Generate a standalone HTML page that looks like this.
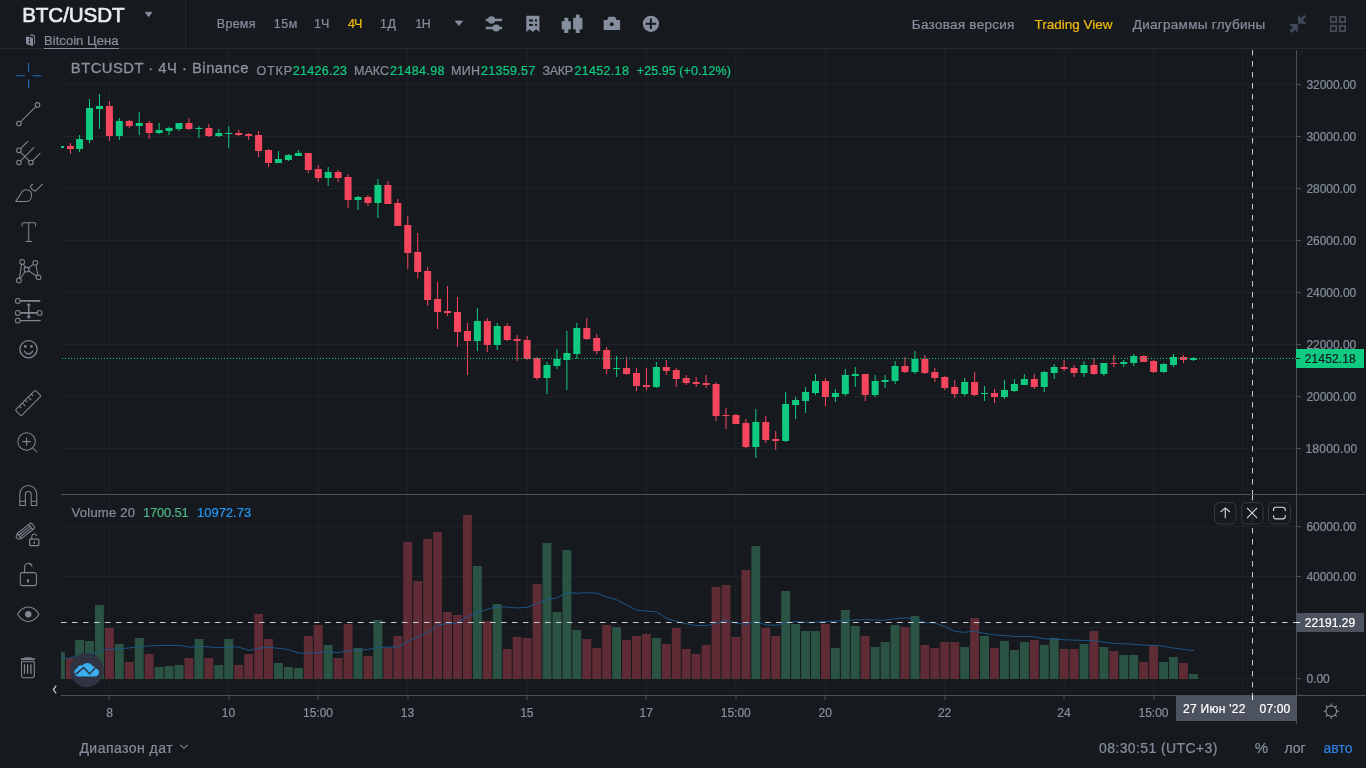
<!DOCTYPE html>
<html lang="ru"><head><meta charset="utf-8"><title>BTC/USDT</title>
<style>
html,body{margin:0;padding:0;background:#161a1e;}
body{width:1366px;height:768px;overflow:hidden;position:relative;font-family:"Liberation Sans",sans-serif;}
#app{position:absolute;left:0;top:0;width:1366px;height:768px;background:#161a1e;overflow:hidden;}
svg{position:absolute;left:0;top:0;}
.t{position:absolute;height:20px;line-height:20px;white-space:nowrap;}
</style></head><body><div id="app">
<svg width="1366" height="768" viewBox="0 0 1366 768">
<defs><clipPath id="cp"><rect x="61" y="49" width="1235" height="646"/></clipPath></defs>
<rect x="108.9" y="49" width="1" height="646" fill="#1f2328"/>
<rect x="228.2" y="49" width="1" height="646" fill="#1f2328"/>
<rect x="317.7" y="49" width="1" height="646" fill="#1f2328"/>
<rect x="407.2" y="49" width="1" height="646" fill="#1f2328"/>
<rect x="526.6" y="49" width="1" height="646" fill="#1f2328"/>
<rect x="645.9" y="49" width="1" height="646" fill="#1f2328"/>
<rect x="735.4" y="49" width="1" height="646" fill="#1f2328"/>
<rect x="824.9" y="49" width="1" height="646" fill="#1f2328"/>
<rect x="944.3" y="49" width="1" height="646" fill="#1f2328"/>
<rect x="1063.6" y="49" width="1" height="646" fill="#1f2328"/>
<rect x="1153.1" y="49" width="1" height="646" fill="#1f2328"/>
<rect x="1242.1" y="49" width="1" height="646" fill="#1f2328"/>
<rect x="61" y="84" width="1235" height="1" fill="#1f2328"/>
<rect x="61" y="136" width="1235" height="1" fill="#1f2328"/>
<rect x="61" y="188" width="1235" height="1" fill="#1f2328"/>
<rect x="61" y="240" width="1235" height="1" fill="#1f2328"/>
<rect x="61" y="292" width="1235" height="1" fill="#1f2328"/>
<rect x="61" y="344" width="1235" height="1" fill="#1f2328"/>
<rect x="61" y="396" width="1235" height="1" fill="#1f2328"/>
<rect x="61" y="448" width="1235" height="1" fill="#1f2328"/>
<rect x="61" y="526" width="1235" height="1" fill="#1f2328"/>
<rect x="61" y="576" width="1235" height="1" fill="#1f2328"/>
<rect x="61" y="627" width="1235" height="1" fill="#1f2328"/>
<rect x="61" y="678" width="1235" height="1" fill="#1f2328"/>
<g clip-path="url(#cp)">
<rect x="56.02" y="652.0" width="8.9" height="27.0" fill="#2b5343"/>
<rect x="65.97" y="658.0" width="8.9" height="21.0" fill="#5f2b35"/>
<rect x="75.11" y="640.0" width="8.9" height="39.0" fill="#2b5343"/>
<rect x="85.06" y="641.0" width="8.9" height="38.0" fill="#2b5343"/>
<rect x="95.01" y="605.0" width="8.9" height="74.0" fill="#2b5343"/>
<rect x="104.95" y="628.0" width="8.9" height="51.0" fill="#5f2b35"/>
<rect x="114.89" y="644.0" width="8.9" height="35.0" fill="#2b5343"/>
<rect x="124.84" y="662.0" width="8.9" height="17.0" fill="#5f2b35"/>
<rect x="134.79" y="638.0" width="8.9" height="41.0" fill="#2b5343"/>
<rect x="144.73" y="654.0" width="8.9" height="25.0" fill="#5f2b35"/>
<rect x="154.68" y="667.0" width="8.9" height="12.0" fill="#2b5343"/>
<rect x="164.62" y="666.0" width="8.9" height="13.0" fill="#2b5343"/>
<rect x="174.57" y="665.0" width="8.9" height="14.0" fill="#2b5343"/>
<rect x="184.51" y="658.0" width="8.9" height="21.0" fill="#5f2b35"/>
<rect x="194.46" y="639.0" width="8.9" height="40.0" fill="#2b5343"/>
<rect x="204.40" y="658.0" width="8.9" height="21.0" fill="#5f2b35"/>
<rect x="214.35" y="665.0" width="8.9" height="14.0" fill="#2b5343"/>
<rect x="224.29" y="639.0" width="8.9" height="40.0" fill="#2b5343"/>
<rect x="234.24" y="665.0" width="8.9" height="14.0" fill="#5f2b35"/>
<rect x="244.18" y="654.0" width="8.9" height="25.0" fill="#5f2b35"/>
<rect x="254.13" y="614.0" width="8.9" height="65.0" fill="#5f2b35"/>
<rect x="264.07" y="639.0" width="8.9" height="40.0" fill="#5f2b35"/>
<rect x="274.02" y="663.0" width="8.9" height="16.0" fill="#2b5343"/>
<rect x="283.96" y="667.0" width="8.9" height="12.0" fill="#2b5343"/>
<rect x="293.91" y="668.0" width="8.9" height="11.0" fill="#2b5343"/>
<rect x="303.85" y="636.0" width="8.9" height="43.0" fill="#5f2b35"/>
<rect x="313.80" y="625.0" width="8.9" height="54.0" fill="#5f2b35"/>
<rect x="323.74" y="645.0" width="8.9" height="34.0" fill="#2b5343"/>
<rect x="333.69" y="658.0" width="8.9" height="21.0" fill="#5f2b35"/>
<rect x="343.63" y="624.0" width="8.9" height="55.0" fill="#5f2b35"/>
<rect x="353.57" y="648.0" width="8.9" height="31.0" fill="#2b5343"/>
<rect x="363.52" y="656.0" width="8.9" height="23.0" fill="#5f2b35"/>
<rect x="373.46" y="620.0" width="8.9" height="59.0" fill="#2b5343"/>
<rect x="383.41" y="648.0" width="8.9" height="31.0" fill="#5f2b35"/>
<rect x="393.36" y="636.0" width="8.9" height="43.0" fill="#5f2b35"/>
<rect x="403.30" y="542.0" width="8.9" height="137.0" fill="#5f2b35"/>
<rect x="413.25" y="581.0" width="8.9" height="98.0" fill="#5f2b35"/>
<rect x="423.19" y="539.0" width="8.9" height="140.0" fill="#5f2b35"/>
<rect x="433.14" y="532.0" width="8.9" height="147.0" fill="#5f2b35"/>
<rect x="443.08" y="612.0" width="8.9" height="67.0" fill="#5f2b35"/>
<rect x="453.03" y="615.0" width="8.9" height="64.0" fill="#5f2b35"/>
<rect x="462.97" y="515.0" width="8.9" height="164.0" fill="#5f2b35"/>
<rect x="472.92" y="566.0" width="8.9" height="113.0" fill="#2b5343"/>
<rect x="482.86" y="621.0" width="8.9" height="58.0" fill="#5f2b35"/>
<rect x="492.81" y="604.0" width="8.9" height="75.0" fill="#2b5343"/>
<rect x="502.75" y="649.0" width="8.9" height="30.0" fill="#5f2b35"/>
<rect x="512.69" y="637.0" width="8.9" height="42.0" fill="#5f2b35"/>
<rect x="522.64" y="638.0" width="8.9" height="41.0" fill="#5f2b35"/>
<rect x="532.58" y="584.0" width="8.9" height="95.0" fill="#5f2b35"/>
<rect x="542.53" y="543.0" width="8.9" height="136.0" fill="#2b5343"/>
<rect x="552.48" y="612.0" width="8.9" height="67.0" fill="#2b5343"/>
<rect x="562.42" y="550.0" width="8.9" height="129.0" fill="#2b5343"/>
<rect x="572.37" y="630.0" width="8.9" height="49.0" fill="#2b5343"/>
<rect x="582.31" y="639.0" width="8.9" height="40.0" fill="#5f2b35"/>
<rect x="592.25" y="648.0" width="8.9" height="31.0" fill="#5f2b35"/>
<rect x="602.20" y="625.0" width="8.9" height="54.0" fill="#5f2b35"/>
<rect x="612.14" y="627.0" width="8.9" height="52.0" fill="#2b5343"/>
<rect x="622.09" y="640.0" width="8.9" height="39.0" fill="#5f2b35"/>
<rect x="632.03" y="636.0" width="8.9" height="43.0" fill="#5f2b35"/>
<rect x="641.98" y="634.0" width="8.9" height="45.0" fill="#5f2b35"/>
<rect x="651.92" y="638.0" width="8.9" height="41.0" fill="#2b5343"/>
<rect x="661.87" y="644.0" width="8.9" height="35.0" fill="#5f2b35"/>
<rect x="671.81" y="628.0" width="8.9" height="51.0" fill="#5f2b35"/>
<rect x="681.76" y="649.0" width="8.9" height="30.0" fill="#5f2b35"/>
<rect x="691.70" y="654.0" width="8.9" height="25.0" fill="#5f2b35"/>
<rect x="701.65" y="645.0" width="8.9" height="34.0" fill="#5f2b35"/>
<rect x="711.59" y="587.0" width="8.9" height="92.0" fill="#5f2b35"/>
<rect x="721.54" y="585.0" width="8.9" height="94.0" fill="#5f2b35"/>
<rect x="731.48" y="637.0" width="8.9" height="42.0" fill="#5f2b35"/>
<rect x="741.43" y="570.0" width="8.9" height="109.0" fill="#5f2b35"/>
<rect x="751.38" y="546.0" width="8.9" height="133.0" fill="#2b5343"/>
<rect x="761.32" y="628.0" width="8.9" height="51.0" fill="#5f2b35"/>
<rect x="771.26" y="636.0" width="8.9" height="43.0" fill="#5f2b35"/>
<rect x="781.21" y="591.0" width="8.9" height="88.0" fill="#2b5343"/>
<rect x="791.15" y="624.0" width="8.9" height="55.0" fill="#2b5343"/>
<rect x="801.10" y="631.0" width="8.9" height="48.0" fill="#2b5343"/>
<rect x="811.04" y="631.0" width="8.9" height="48.0" fill="#2b5343"/>
<rect x="820.99" y="624.0" width="8.9" height="55.0" fill="#5f2b35"/>
<rect x="830.93" y="648.0" width="8.9" height="31.0" fill="#2b5343"/>
<rect x="840.88" y="610.0" width="8.9" height="69.0" fill="#2b5343"/>
<rect x="850.82" y="626.0" width="8.9" height="53.0" fill="#2b5343"/>
<rect x="860.77" y="636.0" width="8.9" height="43.0" fill="#5f2b35"/>
<rect x="870.71" y="647.0" width="8.9" height="32.0" fill="#2b5343"/>
<rect x="880.66" y="642.0" width="8.9" height="37.0" fill="#2b5343"/>
<rect x="890.60" y="625.0" width="8.9" height="54.0" fill="#2b5343"/>
<rect x="900.55" y="627.0" width="8.9" height="52.0" fill="#5f2b35"/>
<rect x="910.50" y="616.0" width="8.9" height="63.0" fill="#2b5343"/>
<rect x="920.44" y="645.0" width="8.9" height="34.0" fill="#5f2b35"/>
<rect x="930.38" y="648.0" width="8.9" height="31.0" fill="#5f2b35"/>
<rect x="940.33" y="642.0" width="8.9" height="37.0" fill="#5f2b35"/>
<rect x="950.27" y="642.0" width="8.9" height="37.0" fill="#5f2b35"/>
<rect x="960.22" y="647.0" width="8.9" height="32.0" fill="#2b5343"/>
<rect x="970.16" y="618.0" width="8.9" height="61.0" fill="#5f2b35"/>
<rect x="980.11" y="636.0" width="8.9" height="43.0" fill="#2b5343"/>
<rect x="990.05" y="648.0" width="8.9" height="31.0" fill="#5f2b35"/>
<rect x="1000.00" y="641.0" width="8.9" height="38.0" fill="#2b5343"/>
<rect x="1009.94" y="650.0" width="8.9" height="29.0" fill="#2b5343"/>
<rect x="1019.89" y="642.0" width="8.9" height="37.0" fill="#2b5343"/>
<rect x="1029.84" y="640.0" width="8.9" height="39.0" fill="#5f2b35"/>
<rect x="1039.78" y="645.0" width="8.9" height="34.0" fill="#2b5343"/>
<rect x="1049.72" y="638.0" width="8.9" height="41.0" fill="#2b5343"/>
<rect x="1059.67" y="649.0" width="8.9" height="30.0" fill="#5f2b35"/>
<rect x="1069.62" y="649.0" width="8.9" height="30.0" fill="#5f2b35"/>
<rect x="1079.56" y="644.0" width="8.9" height="35.0" fill="#2b5343"/>
<rect x="1089.51" y="631.0" width="8.9" height="48.0" fill="#5f2b35"/>
<rect x="1099.45" y="647.0" width="8.9" height="32.0" fill="#2b5343"/>
<rect x="1109.39" y="651.0" width="8.9" height="28.0" fill="#5f2b35"/>
<rect x="1119.34" y="655.0" width="8.9" height="24.0" fill="#2b5343"/>
<rect x="1129.29" y="655.0" width="8.9" height="24.0" fill="#2b5343"/>
<rect x="1139.23" y="662.0" width="8.9" height="17.0" fill="#5f2b35"/>
<rect x="1149.18" y="645.0" width="8.9" height="34.0" fill="#5f2b35"/>
<rect x="1159.12" y="662.0" width="8.9" height="17.0" fill="#2b5343"/>
<rect x="1169.07" y="657.0" width="8.9" height="22.0" fill="#2b5343"/>
<rect x="1179.01" y="663.0" width="8.9" height="16.0" fill="#5f2b35"/>
<rect x="1188.96" y="674.0" width="8.9" height="5.0" fill="#2b5343"/>
<polyline points="61.0,657.7 68.0,658.4 75.3,656.4 92.9,653.5 104.6,649.9 114.4,648.9 126.0,648.3 139.5,646.6 158.5,645.4 180.5,645.4 190.0,647.3 199.5,646.2 218.5,647.6 237.5,646.9 249.3,650.4 258.8,648.2 269.0,647.2 286.6,649.3 299.8,653.2 313.0,652.9 327.6,651.7 337.8,652.6 352.5,650.3 367.1,649.6 377.4,647.5 397.9,647.0 408.1,641.2 422.8,634.6 430.0,630.7 437.3,625.5 447.6,623.3 456.4,623.3 466.6,617.0 478.3,611.9 488.6,609.0 497.3,606.5 507.6,607.2 517.8,608.0 527.4,607.2 536.9,603.6 547.1,599.6 556.6,598.0 566.9,592.6 576.4,593.3 586.7,592.6 596.9,593.3 607.2,597.3 615.9,599.5 625.0,604.0 636.1,610.0 656.6,611.9 666.9,618.5 678.6,622.2 696.1,625.5 707.8,625.5 716.6,622.9 725.4,620.3 735.7,622.9 745.9,624.4 756.2,621.4 766.4,625.1 776.7,625.1 785.4,622.9 795.7,621.7 810.0,622.3 829.0,621.4 846.6,620.4 864.2,619.5 883.2,620.3 894.9,618.8 905.2,617.8 915.4,619.2 925.7,622.6 934.5,622.9 944.7,626.6 954.2,631.2 963.7,632.4 974.0,631.2 984.2,633.4 994.5,634.9 1004.0,635.5 1014.6,636.5 1032.2,636.5 1043.9,638.7 1063.0,639.7 1093.7,640.8 1114.2,643.4 1131.8,644.1 1146.4,645.2 1159.6,645.6 1174.2,648.2 1194.0,650.7" fill="none" stroke="#1a5687" stroke-width="1" stroke-linejoin="round"/>
<rect x="59.98" y="146.0" width="1" height="2.0" fill="#0ecb81"/>
<rect x="56.98" y="146.0" width="7" height="2.0" fill="#0ecb81"/>
<rect x="69.92" y="143.0" width="1" height="11.0" fill="#f6465d"/>
<rect x="66.92" y="146.0" width="7" height="3.0" fill="#f6465d"/>
<rect x="79.06" y="135.0" width="1" height="17.0" fill="#0ecb81"/>
<rect x="76.06" y="139.0" width="7" height="10.0" fill="#0ecb81"/>
<rect x="89.01" y="99.0" width="1" height="44.0" fill="#0ecb81"/>
<rect x="86.01" y="108.0" width="7" height="32.0" fill="#0ecb81"/>
<rect x="98.96" y="94.0" width="1" height="35.0" fill="#0ecb81"/>
<rect x="95.96" y="106.0" width="7" height="3.0" fill="#0ecb81"/>
<rect x="108.90" y="101.0" width="1" height="40.0" fill="#f6465d"/>
<rect x="105.90" y="106.0" width="7" height="30.0" fill="#f6465d"/>
<rect x="118.84" y="118.0" width="1" height="22.0" fill="#0ecb81"/>
<rect x="115.84" y="121.0" width="7" height="15.0" fill="#0ecb81"/>
<rect x="128.79" y="120.0" width="1" height="8.0" fill="#f6465d"/>
<rect x="125.79" y="121.0" width="7" height="5.0" fill="#f6465d"/>
<rect x="138.74" y="112.0" width="1" height="23.0" fill="#0ecb81"/>
<rect x="135.74" y="123.0" width="7" height="3.0" fill="#0ecb81"/>
<rect x="148.68" y="121.0" width="1" height="18.0" fill="#f6465d"/>
<rect x="145.68" y="123.0" width="7" height="10.0" fill="#f6465d"/>
<rect x="158.62" y="123.0" width="1" height="11.0" fill="#0ecb81"/>
<rect x="155.62" y="130.0" width="7" height="3.0" fill="#0ecb81"/>
<rect x="168.57" y="127.0" width="1" height="8.0" fill="#0ecb81"/>
<rect x="165.57" y="128.0" width="7" height="3.0" fill="#0ecb81"/>
<rect x="178.52" y="123.0" width="1" height="8.0" fill="#0ecb81"/>
<rect x="175.52" y="123.0" width="7" height="6.0" fill="#0ecb81"/>
<rect x="188.46" y="118.0" width="1" height="12.0" fill="#f6465d"/>
<rect x="185.46" y="123.0" width="7" height="6.0" fill="#f6465d"/>
<rect x="198.41" y="126.0" width="1" height="12.0" fill="#0ecb81"/>
<rect x="195.41" y="128.0" width="7" height="1.0" fill="#0ecb81"/>
<rect x="208.35" y="124.0" width="1" height="13.0" fill="#f6465d"/>
<rect x="205.35" y="128.0" width="7" height="8.0" fill="#f6465d"/>
<rect x="218.30" y="129.0" width="1" height="8.0" fill="#0ecb81"/>
<rect x="215.30" y="133.0" width="7" height="3.0" fill="#0ecb81"/>
<rect x="228.24" y="126.0" width="1" height="22.0" fill="#0ecb81"/>
<rect x="225.24" y="133.0" width="7" height="1.0" fill="#0ecb81"/>
<rect x="238.19" y="130.0" width="1" height="6.0" fill="#f6465d"/>
<rect x="235.19" y="133.0" width="7" height="2.0" fill="#f6465d"/>
<rect x="248.13" y="133.0" width="1" height="7.0" fill="#f6465d"/>
<rect x="245.13" y="134.0" width="7" height="2.0" fill="#f6465d"/>
<rect x="258.08" y="131.0" width="1" height="26.0" fill="#f6465d"/>
<rect x="255.08" y="135.0" width="7" height="16.0" fill="#f6465d"/>
<rect x="268.02" y="149.0" width="1" height="18.0" fill="#f6465d"/>
<rect x="265.02" y="150.0" width="7" height="13.0" fill="#f6465d"/>
<rect x="277.97" y="151.0" width="1" height="12.0" fill="#0ecb81"/>
<rect x="274.97" y="159.0" width="7" height="4.0" fill="#0ecb81"/>
<rect x="287.91" y="154.0" width="1" height="7.0" fill="#0ecb81"/>
<rect x="284.91" y="155.0" width="7" height="5.0" fill="#0ecb81"/>
<rect x="297.86" y="150.0" width="1" height="6.0" fill="#0ecb81"/>
<rect x="294.86" y="153.0" width="7" height="3.0" fill="#0ecb81"/>
<rect x="307.80" y="153.0" width="1" height="20.0" fill="#f6465d"/>
<rect x="304.80" y="153.0" width="7" height="17.0" fill="#f6465d"/>
<rect x="317.75" y="165.0" width="1" height="17.0" fill="#f6465d"/>
<rect x="314.75" y="169.0" width="7" height="9.0" fill="#f6465d"/>
<rect x="327.69" y="167.0" width="1" height="19.0" fill="#0ecb81"/>
<rect x="324.69" y="172.0" width="7" height="6.0" fill="#0ecb81"/>
<rect x="337.63" y="170.0" width="1" height="12.0" fill="#f6465d"/>
<rect x="334.63" y="172.0" width="7" height="6.0" fill="#f6465d"/>
<rect x="347.58" y="174.0" width="1" height="34.0" fill="#f6465d"/>
<rect x="344.58" y="177.0" width="7" height="23.0" fill="#f6465d"/>
<rect x="357.52" y="196.0" width="1" height="14.0" fill="#0ecb81"/>
<rect x="354.52" y="197.0" width="7" height="3.0" fill="#0ecb81"/>
<rect x="367.47" y="195.0" width="1" height="11.0" fill="#f6465d"/>
<rect x="364.47" y="197.0" width="7" height="6.0" fill="#f6465d"/>
<rect x="377.41" y="179.0" width="1" height="39.0" fill="#0ecb81"/>
<rect x="374.41" y="185.0" width="7" height="18.0" fill="#0ecb81"/>
<rect x="387.36" y="181.0" width="1" height="23.0" fill="#f6465d"/>
<rect x="384.36" y="185.0" width="7" height="19.0" fill="#f6465d"/>
<rect x="397.31" y="199.0" width="1" height="27.0" fill="#f6465d"/>
<rect x="394.31" y="203.0" width="7" height="23.0" fill="#f6465d"/>
<rect x="407.25" y="216.0" width="1" height="53.0" fill="#f6465d"/>
<rect x="404.25" y="225.0" width="7" height="28.0" fill="#f6465d"/>
<rect x="417.20" y="233.0" width="1" height="45.0" fill="#f6465d"/>
<rect x="414.20" y="252.0" width="7" height="20.0" fill="#f6465d"/>
<rect x="427.14" y="267.0" width="1" height="39.0" fill="#f6465d"/>
<rect x="424.14" y="271.0" width="7" height="29.0" fill="#f6465d"/>
<rect x="437.09" y="282.0" width="1" height="47.0" fill="#f6465d"/>
<rect x="434.09" y="299.0" width="7" height="13.0" fill="#f6465d"/>
<rect x="447.03" y="286.0" width="1" height="30.0" fill="#f6465d"/>
<rect x="444.03" y="311.0" width="7" height="2.0" fill="#f6465d"/>
<rect x="456.98" y="297.0" width="1" height="50.0" fill="#f6465d"/>
<rect x="453.98" y="312.0" width="7" height="20.0" fill="#f6465d"/>
<rect x="466.92" y="323.0" width="1" height="52.0" fill="#f6465d"/>
<rect x="463.92" y="331.0" width="7" height="10.0" fill="#f6465d"/>
<rect x="476.87" y="308.0" width="1" height="43.0" fill="#0ecb81"/>
<rect x="473.87" y="321.0" width="7" height="20.0" fill="#0ecb81"/>
<rect x="486.81" y="318.0" width="1" height="34.0" fill="#f6465d"/>
<rect x="483.81" y="321.0" width="7" height="24.0" fill="#f6465d"/>
<rect x="496.75" y="323.0" width="1" height="27.0" fill="#0ecb81"/>
<rect x="493.75" y="326.0" width="7" height="19.0" fill="#0ecb81"/>
<rect x="506.70" y="323.0" width="1" height="18.0" fill="#f6465d"/>
<rect x="503.70" y="326.0" width="7" height="14.0" fill="#f6465d"/>
<rect x="516.64" y="335.0" width="1" height="26.0" fill="#f6465d"/>
<rect x="513.64" y="339.0" width="7" height="2.0" fill="#f6465d"/>
<rect x="526.59" y="336.0" width="1" height="24.0" fill="#f6465d"/>
<rect x="523.59" y="340.0" width="7" height="19.0" fill="#f6465d"/>
<rect x="536.53" y="357.0" width="1" height="23.0" fill="#f6465d"/>
<rect x="533.53" y="358.0" width="7" height="20.0" fill="#f6465d"/>
<rect x="546.48" y="362.0" width="1" height="32.0" fill="#0ecb81"/>
<rect x="543.48" y="365.0" width="7" height="13.0" fill="#0ecb81"/>
<rect x="556.43" y="349.0" width="1" height="20.0" fill="#0ecb81"/>
<rect x="553.43" y="359.0" width="7" height="7.0" fill="#0ecb81"/>
<rect x="566.37" y="331.0" width="1" height="59.0" fill="#0ecb81"/>
<rect x="563.37" y="353.0" width="7" height="7.0" fill="#0ecb81"/>
<rect x="576.32" y="323.0" width="1" height="36.0" fill="#0ecb81"/>
<rect x="573.32" y="328.0" width="7" height="26.0" fill="#0ecb81"/>
<rect x="586.26" y="318.0" width="1" height="22.0" fill="#f6465d"/>
<rect x="583.26" y="328.0" width="7" height="11.0" fill="#f6465d"/>
<rect x="596.21" y="334.0" width="1" height="20.0" fill="#f6465d"/>
<rect x="593.21" y="338.0" width="7" height="13.0" fill="#f6465d"/>
<rect x="606.15" y="347.0" width="1" height="27.0" fill="#f6465d"/>
<rect x="603.15" y="350.0" width="7" height="19.0" fill="#f6465d"/>
<rect x="616.10" y="356.0" width="1" height="21.0" fill="#0ecb81"/>
<rect x="613.10" y="368.0" width="7" height="1.0" fill="#0ecb81"/>
<rect x="626.04" y="357.0" width="1" height="18.0" fill="#f6465d"/>
<rect x="623.04" y="368.0" width="7" height="6.0" fill="#f6465d"/>
<rect x="635.99" y="368.0" width="1" height="23.0" fill="#f6465d"/>
<rect x="632.99" y="373.0" width="7" height="13.0" fill="#f6465d"/>
<rect x="645.93" y="368.0" width="1" height="22.0" fill="#f6465d"/>
<rect x="642.93" y="385.0" width="7" height="2.0" fill="#f6465d"/>
<rect x="655.88" y="362.0" width="1" height="26.0" fill="#0ecb81"/>
<rect x="652.88" y="367.0" width="7" height="20.0" fill="#0ecb81"/>
<rect x="665.82" y="360.0" width="1" height="15.0" fill="#f6465d"/>
<rect x="662.82" y="367.0" width="7" height="4.0" fill="#f6465d"/>
<rect x="675.76" y="368.0" width="1" height="19.0" fill="#f6465d"/>
<rect x="672.76" y="370.0" width="7" height="9.0" fill="#f6465d"/>
<rect x="685.71" y="375.0" width="1" height="10.0" fill="#f6465d"/>
<rect x="682.71" y="378.0" width="7" height="5.0" fill="#f6465d"/>
<rect x="695.65" y="377.0" width="1" height="10.0" fill="#f6465d"/>
<rect x="692.65" y="382.0" width="7" height="2.0" fill="#f6465d"/>
<rect x="705.60" y="375.0" width="1" height="13.0" fill="#f6465d"/>
<rect x="702.60" y="383.0" width="7" height="2.0" fill="#f6465d"/>
<rect x="715.54" y="382.0" width="1" height="39.0" fill="#f6465d"/>
<rect x="712.54" y="384.0" width="7" height="32.0" fill="#f6465d"/>
<rect x="725.49" y="408.0" width="1" height="21.0" fill="#f6465d"/>
<rect x="722.49" y="415.0" width="7" height="1.0" fill="#f6465d"/>
<rect x="735.43" y="414.0" width="1" height="10.0" fill="#f6465d"/>
<rect x="732.43" y="415.0" width="7" height="9.0" fill="#f6465d"/>
<rect x="745.38" y="419.0" width="1" height="29.0" fill="#f6465d"/>
<rect x="742.38" y="423.0" width="7" height="24.0" fill="#f6465d"/>
<rect x="755.33" y="409.0" width="1" height="49.0" fill="#0ecb81"/>
<rect x="752.33" y="422.0" width="7" height="25.0" fill="#0ecb81"/>
<rect x="765.27" y="416.0" width="1" height="27.0" fill="#f6465d"/>
<rect x="762.27" y="422.0" width="7" height="18.0" fill="#f6465d"/>
<rect x="775.22" y="431.0" width="1" height="19.0" fill="#f6465d"/>
<rect x="772.22" y="439.0" width="7" height="2.0" fill="#f6465d"/>
<rect x="785.16" y="392.0" width="1" height="50.0" fill="#0ecb81"/>
<rect x="782.16" y="404.0" width="7" height="37.0" fill="#0ecb81"/>
<rect x="795.11" y="397.0" width="1" height="22.0" fill="#0ecb81"/>
<rect x="792.11" y="400.0" width="7" height="5.0" fill="#0ecb81"/>
<rect x="805.05" y="387.0" width="1" height="26.0" fill="#0ecb81"/>
<rect x="802.05" y="392.0" width="7" height="9.0" fill="#0ecb81"/>
<rect x="815.00" y="374.0" width="1" height="21.0" fill="#0ecb81"/>
<rect x="812.00" y="381.0" width="7" height="12.0" fill="#0ecb81"/>
<rect x="824.94" y="378.0" width="1" height="28.0" fill="#f6465d"/>
<rect x="821.94" y="381.0" width="7" height="16.0" fill="#f6465d"/>
<rect x="834.88" y="389.0" width="1" height="13.0" fill="#0ecb81"/>
<rect x="831.88" y="393.0" width="7" height="4.0" fill="#0ecb81"/>
<rect x="844.83" y="369.0" width="1" height="27.0" fill="#0ecb81"/>
<rect x="841.83" y="375.0" width="7" height="19.0" fill="#0ecb81"/>
<rect x="854.77" y="367.0" width="1" height="20.0" fill="#0ecb81"/>
<rect x="851.77" y="374.0" width="7" height="2.0" fill="#0ecb81"/>
<rect x="864.72" y="374.0" width="1" height="27.0" fill="#f6465d"/>
<rect x="861.72" y="374.0" width="7" height="21.0" fill="#f6465d"/>
<rect x="874.66" y="375.0" width="1" height="22.0" fill="#0ecb81"/>
<rect x="871.66" y="381.0" width="7" height="14.0" fill="#0ecb81"/>
<rect x="884.61" y="375.0" width="1" height="13.0" fill="#0ecb81"/>
<rect x="881.61" y="380.0" width="7" height="2.0" fill="#0ecb81"/>
<rect x="894.55" y="361.0" width="1" height="23.0" fill="#0ecb81"/>
<rect x="891.55" y="366.0" width="7" height="15.0" fill="#0ecb81"/>
<rect x="904.50" y="357.0" width="1" height="16.0" fill="#f6465d"/>
<rect x="901.50" y="366.0" width="7" height="6.0" fill="#f6465d"/>
<rect x="914.45" y="351.0" width="1" height="23.0" fill="#0ecb81"/>
<rect x="911.45" y="359.0" width="7" height="13.0" fill="#0ecb81"/>
<rect x="924.39" y="355.0" width="1" height="19.0" fill="#f6465d"/>
<rect x="921.39" y="359.0" width="7" height="14.0" fill="#f6465d"/>
<rect x="934.34" y="368.0" width="1" height="14.0" fill="#f6465d"/>
<rect x="931.34" y="372.0" width="7" height="6.0" fill="#f6465d"/>
<rect x="944.28" y="376.0" width="1" height="14.0" fill="#f6465d"/>
<rect x="941.28" y="377.0" width="7" height="11.0" fill="#f6465d"/>
<rect x="954.23" y="380.0" width="1" height="18.0" fill="#f6465d"/>
<rect x="951.23" y="387.0" width="7" height="7.0" fill="#f6465d"/>
<rect x="964.17" y="378.0" width="1" height="18.0" fill="#0ecb81"/>
<rect x="961.17" y="382.0" width="7" height="12.0" fill="#0ecb81"/>
<rect x="974.12" y="372.0" width="1" height="24.0" fill="#f6465d"/>
<rect x="971.12" y="382.0" width="7" height="13.0" fill="#f6465d"/>
<rect x="984.06" y="386.0" width="1" height="15.0" fill="#0ecb81"/>
<rect x="981.06" y="393.0" width="7" height="1.0" fill="#0ecb81"/>
<rect x="994.00" y="389.0" width="1" height="14.0" fill="#f6465d"/>
<rect x="991.00" y="393.0" width="7" height="4.0" fill="#f6465d"/>
<rect x="1003.95" y="380.0" width="1" height="19.0" fill="#0ecb81"/>
<rect x="1000.95" y="390.0" width="7" height="7.0" fill="#0ecb81"/>
<rect x="1013.89" y="379.0" width="1" height="13.0" fill="#0ecb81"/>
<rect x="1010.89" y="384.0" width="7" height="7.0" fill="#0ecb81"/>
<rect x="1023.84" y="374.0" width="1" height="11.0" fill="#0ecb81"/>
<rect x="1020.84" y="379.0" width="7" height="6.0" fill="#0ecb81"/>
<rect x="1033.79" y="374.0" width="1" height="15.0" fill="#f6465d"/>
<rect x="1030.79" y="379.0" width="7" height="8.0" fill="#f6465d"/>
<rect x="1043.73" y="371.0" width="1" height="21.0" fill="#0ecb81"/>
<rect x="1040.73" y="372.0" width="7" height="15.0" fill="#0ecb81"/>
<rect x="1053.67" y="364.0" width="1" height="15.0" fill="#0ecb81"/>
<rect x="1050.67" y="367.0" width="7" height="6.0" fill="#0ecb81"/>
<rect x="1063.62" y="360.0" width="1" height="11.0" fill="#f6465d"/>
<rect x="1060.62" y="367.0" width="7" height="2.0" fill="#f6465d"/>
<rect x="1073.57" y="365.0" width="1" height="12.0" fill="#f6465d"/>
<rect x="1070.57" y="368.0" width="7" height="5.0" fill="#f6465d"/>
<rect x="1083.51" y="361.0" width="1" height="16.0" fill="#0ecb81"/>
<rect x="1080.51" y="365.0" width="7" height="8.0" fill="#0ecb81"/>
<rect x="1093.46" y="358.0" width="1" height="17.0" fill="#f6465d"/>
<rect x="1090.46" y="365.0" width="7" height="9.0" fill="#f6465d"/>
<rect x="1103.40" y="363.0" width="1" height="13.0" fill="#0ecb81"/>
<rect x="1100.40" y="363.0" width="7" height="11.0" fill="#0ecb81"/>
<rect x="1113.35" y="355.0" width="1" height="12.0" fill="#f6465d"/>
<rect x="1110.35" y="363.0" width="7" height="1.0" fill="#f6465d"/>
<rect x="1123.29" y="360.0" width="1" height="7.0" fill="#0ecb81"/>
<rect x="1120.29" y="362.0" width="7" height="2.0" fill="#0ecb81"/>
<rect x="1133.24" y="354.0" width="1" height="12.0" fill="#0ecb81"/>
<rect x="1130.24" y="356.0" width="7" height="7.0" fill="#0ecb81"/>
<rect x="1143.18" y="355.0" width="1" height="7.0" fill="#f6465d"/>
<rect x="1140.18" y="356.0" width="7" height="6.0" fill="#f6465d"/>
<rect x="1153.13" y="360.0" width="1" height="13.0" fill="#f6465d"/>
<rect x="1150.13" y="361.0" width="7" height="11.0" fill="#f6465d"/>
<rect x="1163.07" y="363.0" width="1" height="10.0" fill="#0ecb81"/>
<rect x="1160.07" y="364.0" width="7" height="8.0" fill="#0ecb81"/>
<rect x="1173.02" y="354.0" width="1" height="13.0" fill="#0ecb81"/>
<rect x="1170.02" y="357.0" width="7" height="8.0" fill="#0ecb81"/>
<rect x="1182.96" y="355.0" width="1" height="8.0" fill="#f6465d"/>
<rect x="1179.96" y="357.0" width="7" height="3.0" fill="#f6465d"/>
<rect x="1192.91" y="357.0" width="1" height="4.0" fill="#0ecb81"/>
<rect x="1189.91" y="358.0" width="7" height="2.0" fill="#0ecb81"/>
</g>
<line x1="62" y1="358.5" x2="1296" y2="358.5" stroke="#0ecb81" stroke-width="1" stroke-dasharray="1 2"/>
<rect x="61" y="494" width="1305" height="1" fill="#4a4f5a"/>
<rect x="1296" y="50" width="1" height="674" fill="#4a4f5a"/>
<rect x="61" y="695" width="1305" height="1" fill="#4a4f5a"/>
<rect x="1297" y="84" width="4" height="1" fill="#4a4f5a"/>
<rect x="1297" y="136" width="4" height="1" fill="#4a4f5a"/>
<rect x="1297" y="188" width="4" height="1" fill="#4a4f5a"/>
<rect x="1297" y="240" width="4" height="1" fill="#4a4f5a"/>
<rect x="1297" y="292" width="4" height="1" fill="#4a4f5a"/>
<rect x="1297" y="344" width="4" height="1" fill="#4a4f5a"/>
<rect x="1297" y="396" width="4" height="1" fill="#4a4f5a"/>
<rect x="1297" y="448" width="4" height="1" fill="#4a4f5a"/>
<rect x="1297" y="526" width="4" height="1" fill="#4a4f5a"/>
<rect x="1297" y="576" width="4" height="1" fill="#4a4f5a"/>
<rect x="1297" y="678" width="4" height="1" fill="#4a4f5a"/>
<rect x="108.5" y="696" width="1" height="4" fill="#4a4f5a"/>
<rect x="228.5" y="696" width="1" height="4" fill="#4a4f5a"/>
<rect x="317.5" y="696" width="1" height="4" fill="#4a4f5a"/>
<rect x="407.5" y="696" width="1" height="4" fill="#4a4f5a"/>
<rect x="526.5" y="696" width="1" height="4" fill="#4a4f5a"/>
<rect x="645.5" y="696" width="1" height="4" fill="#4a4f5a"/>
<rect x="735.5" y="696" width="1" height="4" fill="#4a4f5a"/>
<rect x="824.5" y="696" width="1" height="4" fill="#4a4f5a"/>
<rect x="944.5" y="696" width="1" height="4" fill="#4a4f5a"/>
<rect x="1063.5" y="696" width="1" height="4" fill="#4a4f5a"/>
<rect x="1153.5" y="696" width="1" height="4" fill="#4a4f5a"/>
<line x1="1252.5" y1="50" x2="1252.5" y2="494" stroke="#c9ccd3" stroke-width="1" stroke-dasharray="5.5 5.5"/>
<line x1="1252.5" y1="495" x2="1252.5" y2="696" stroke="#c9ccd3" stroke-width="1" stroke-dasharray="5.5 5.5"/>
<line x1="61" y1="622.5" x2="1296" y2="622.5" stroke="#c9ccd3" stroke-width="1" stroke-dasharray="5.5 5.5"/>
<rect x="1296" y="349" width="68" height="19" fill="#0ecb81"/>
<rect x="1296" y="358" width="4" height="1" fill="#161a1e"/>
<rect x="1296" y="613" width="68" height="19" fill="#4c525e"/>
<rect x="1296" y="622" width="4" height="1" fill="#ffffff"/>
<rect x="1176" y="696" width="121" height="25" fill="#4c525e"/>
<rect x="1252" y="696" width="1" height="4" fill="#ffffff"/>
<rect x="0" y="48" width="1366" height="1" fill="#252930"/>
<rect x="185" y="0" width="1" height="48" fill="#252930"/>
<rect x="44" y="48" width="75" height="1" fill="#848e9c"/>
<!-- header icons -->
<g fill="#848e9c">
<path d="M145.2 12.2h6.8l-3.4 4.6z" stroke="#848e9c" stroke-width="0.8" stroke-linejoin="round"/>
<path d="M455.2 21h7.4l-3.7 4.6z" stroke="#848e9c" stroke-width="0.8" stroke-linejoin="round"/>
<!-- book/info icon -->
<path d="M26 36.4l7 1.3v8.5l-7-2.2z"/>
<path d="M27.2 35.4l5.6-1.4v1l-3 .8 4.2.8v7.6l1-.3v-8.4l-2.2-.5z" opacity="0.85"/>
<!-- sliders -->
<rect x="485.8" y="18.7" width="16.3" height="2.5"/><circle cx="491.5" cy="19.9" r="3.6"/>
<rect x="485.8" y="26.75" width="16.3" height="2.5"/><circle cx="496.2" cy="28" r="3.6"/>
<!-- receipt -->
<path d="M526.3 15.8h13.1v16.2l-3.3-2.7-3.25 2.7-3.25-2.7-3.3 2.7z"/>
<!-- candles -->
<rect x="561.7" y="21.2" width="9.2" height="8.2"/><rect x="564.3" y="17.8" width="4" height="15.2"/>
<rect x="573.1" y="17.8" width="9.3" height="11.6"/><rect x="575.8" y="14.6" width="3.9" height="18.4"/>
<!-- camera -->
<path d="M603.7 19.9h3.4l1.6-3.1h6.3l1.6 3.1h3.5v10.1h-16.4z"/>
<!-- plus circle -->
<circle cx="650.9" cy="23.8" r="8.1"/>
</g>
<g fill="#161a1e">
<rect x="28.9" y="38.4" width="1.3" height="1.4"/><rect x="28.9" y="40.7" width="1.3" height="2.8"/>
<rect x="529" y="19.4" width="3.9" height="2.2"/><rect x="534.9" y="19.4" width="2.1" height="2.2"/>
<rect x="529" y="23.9" width="3.9" height="2.1"/><rect x="534.9" y="23.9" width="2.1" height="2.1"/>
<circle cx="611.8" cy="24.3" r="2"/>
<rect x="645.6" y="22.8" width="10.6" height="2"/><rect x="649.9" y="18.5" width="2" height="10.6"/>
</g>
<!-- collapse icon -->
<g fill="#414857">
<path d="M1298 23.7v-8.7l2.9 2.9 3.2-3.2 2.1 2.1-3.2 3.2 3.5 3.7z"/>
<path d="M1297.8 24.1v8.5l-2.9-2.9-3.2 3.2-2.1-2.1 3.2-3.2-3.8-3.5z"/>
</g>
<g fill="none" stroke="#464c59" stroke-width="1.7">
<rect x="1330.75" y="16.75" width="5.4" height="5.4"/><rect x="1339.75" y="16.75" width="5.4" height="5.4"/>
<rect x="1330.75" y="25.75" width="5.4" height="5.4"/><rect x="1339.75" y="25.75" width="5.4" height="5.4"/>
</g>

<!-- left toolbar -->
<g fill="none" stroke="#1e6fbf" stroke-width="1.1">
<path d="M28.6 62.9v8.9M28.6 79.6v8.7M16 75.75h9.1M32.6 75.75h8.9"/>
</g>
<g fill="none" stroke="#81868f" stroke-width="1.05" stroke-linecap="round" stroke-linejoin="round">
<!-- trend line -->
<circle cx="37.5" cy="104.9" r="2.3"/><circle cx="18.9" cy="123.5" r="2.3"/><path d="M20.6 121.8L35.8 106.6"/>
<!-- pitchfork -->
<circle cx="18.9" cy="150.4" r="2.3"/><circle cx="18.9" cy="162.5" r="2.3"/><circle cx="30.9" cy="162.5" r="2.3"/>
<path d="M20.6 148.7L27.8 141.3M20.6 160.8L34 147.3M32.6 160.8L40 153.3M20.6 152.1L29.2 160.8"/>
<!-- brush -->
<path d="M15.8 201.4L22 191.8C23.2 190 25 189.6 26.4 189.7C29.6 189.9 31.9 192.3 31.7 195.2C31.5 198.6 29.4 201.4 26.5 201.4Z"/>
<path d="M32.7 184.2C31 185.2 30.2 186.2 30.6 187.2C31.4 189 33.3 190.8 35.1 191.3L42.6 184.2"/>
<!-- text -->
<path d="M22.1 226.1v-2.4c0-.6.4-1 1-1h11.500c.6 0 1 .4 1 1v2.400M28.7 222.7v18.700M26 241.4h5.700"/>
<!-- pattern -->
<circle cx="22.2" cy="261.9" r="2.4"/><circle cx="35.3" cy="262.8" r="2.4"/><circle cx="26.5" cy="269.5" r="2.4"/><circle cx="18.9" cy="280.5" r="2.4"/><circle cx="38.500" cy="277.3" r="2.4"/>
<path d="M21.5 264.300L19.500 278.100M23.400 264L25.200 267.400M25.100 271.500L20.300 278.500M28.400 268L33.400 264.300M28.600 270.700L36.400 276M35.900 265.200L37.900 274.900"/>
<!-- position -->
<circle cx="17.8" cy="300.9" r="2.4"/><circle cx="17.8" cy="312.9" r="2.4"/><circle cx="39.6" cy="312.9" r="2.4"/><circle cx="17.8" cy="320.6" r="2.4"/>
<path d="M20.3 320.600H40.300"/>
<path d="M20.300 300.900H40.300M20.300 312.900H37.100" stroke-width="1.700" stroke-linecap="butt"/>
<path d="M28.700 305V317" stroke-width="1.500" stroke-linecap="butt"/>
<!-- smiley -->
<circle cx="28.500" cy="349.200" r="8.600" stroke-width="1.300"/>
<path d="M24.400 351.200C25.500 353.200 27 354 28.500 354C30 354 31.500 353.200 32.500 351.200" stroke-width="1.300"/>
<!-- ruler -->
<g transform="translate(28.200 403) rotate(-45)"><rect x="-14.100" y="-4.100" width="28.200" height="8.200" rx="1.200"/><path d="M-8.400 -4v2.600M-4.200 -4v4.200M0 -4v2.600M4.200 -4v4.200M8.400 -4v2.600" stroke-linecap="butt"/></g>
<!-- zoom -->
<circle cx="26.600" cy="441.500" r="8.700"/><path d="M22.800 441.600h7.600M26.600 437.900v7.500M33 448l3.900 4"/>
<!-- magnet -->
<path d="M19.800 505.400V494A8.450 8.450 0 0 1 36.700 494V505.400H31.200V494.500A2.900 2.900 0 0 0 25.400 494.500V505.400Z M19.800 501.300H25.400M31.200 501.300H36.700"/>
<!-- pencil+lock -->
<g transform="translate(25.100 531.500) rotate(-38.500)"><path d="M-7.400 -3.300H8.600A1.600 1.600 0 0 1 10.200 -1.700V1.700A1.600 1.600 0 0 1 8.600 3.300H-7.400L-10.600 1.200V-1.200Z M-7.400 -3.300V3.300M-7.400 -1.100H7.200M-7.400 1.100H7.200M7.200 -3.300V3.300"/></g>
<rect x="29.600" y="539.200" width="9.200" height="6.500" rx="0.800" stroke-width="1.200"/>
<path d="M31.800 539V536.200A2.400 2.400 0 0 1 36.500 535.700"/>
<path d="M34.300 541.900v1.500" stroke-width="1.300"/>
<!-- lock open -->
<rect x="20.300" y="572.600" width="16.100" height="13" rx="2"/>
<path d="M24.600 572.400V567.100A3.750 3.750 0 0 1 32 566.300"/>
<path d="M28.100 579.200v3.200" stroke-width="2" stroke-linecap="butt"/>
<!-- eye -->
<path d="M17.500 614.200C20.500 609.500 24.300 607 28.300 607C32.300 607 36.100 609.500 39 614.200C36.100 618.900 32.300 621.400 28.300 621.400C24.300 621.400 20.500 618.900 17.500 614.200Z"/>
<!-- trash -->
<path d="M21.500 661.700H34.300V675.600A2.200 2.200 0 0 1 32.100 677.800H23.700A2.200 2.200 0 0 1 21.500 675.600Z"/>
<path d="M24.500 664.200v9.600M27.600 664.200v9.600M30.900 664.200v9.600" stroke-width="1.300" stroke-linecap="butt"/>
<path d="M20.900 659.200H34.800" stroke-width="1.900" stroke-linecap="butt"/>
<path d="M24.300 657.900H31.400" stroke-width="1.200" stroke-linecap="butt"/>
</g>
<g fill="#81868f">
<circle cx="25.300" cy="346.400" r="1.300"/><circle cx="31.500" cy="346.400" r="1.300"/>
<circle cx="28.300" cy="614.200" r="3.200"/>
<path d="M26.300 305.600L28.700 303L31.100 305.600ZM26.300 316.300L28.700 318.900L31.100 316.300Z"/>
</g>
<!-- cloud button -->
<circle cx="86.700" cy="670" r="17" fill="#2f3241"/>
<path d="M78.600 676.600a4.300 4.300 0 0 1 -1.500 -8.300a4.700 4.700 0 0 1 5.400 -2.900a6 6 0 0 1 10.200 0.900a3.600 3.600 0 0 1 3.400 2.300a4.100 4.100 0 0 1 -1.200 8z" fill="#38aef0"/>
<path d="M75.600 674.300L83.800 667.500L89.600 674L95.700 667.300" fill="none" stroke="#2f3241" stroke-width="1.500" stroke-linejoin="miter"/>
<!-- collapse arrow left bottom -->
<path d="M56.200 685.700L53.400 689.600L56.200 693.500" fill="none" stroke="#d1d4dc" stroke-width="1.200"/>
<!-- pane buttons -->
<g fill="#161a1e" fill-opacity="0.85" stroke="#353944" stroke-width="1">
<rect x="1214.500" y="502.500" width="21.500" height="21.500" rx="5.500"/>
<rect x="1241.500" y="502.500" width="21.500" height="21.500" rx="5.500"/>
<rect x="1268.500" y="502.500" width="22" height="21.500" rx="5.500"/>
</g>
<g fill="none" stroke="#d6d9e0" stroke-width="1.100">
<path d="M1225.250 518.200V508M1220.600 512L1225.250 507.900L1229.900 512"/>
<path d="M1247 507.900L1257.200 518.200M1257.200 507.900L1247 518.200"/>
<path d="M1273.500 511V509.500A2.300 2.300 0 0 1 1275.800 507.200H1282.900A2.300 2.300 0 0 1 1285.200 509.500V511M1273.500 515.200V516.600A2.300 2.300 0 0 0 1275.800 518.900H1282.900A2.300 2.300 0 0 0 1285.200 516.600V515.200"/>
</g>
<!-- gear -->
<g fill="none" stroke="#8a8f99" stroke-width="1.100">
<circle cx="1331.300" cy="711.200" r="5.300"/>
<path d="M1331.300 703.500v2.400M1331.300 716.500v2.400M1323.600 711.200h2.400M1336.600 711.200h2.400M1325.850 705.750l1.700 1.700M1335.050 714.950l1.700 1.700M1325.850 716.650l1.700 -1.700M1335.050 707.450l1.700 -1.700"/>
</g>
<!-- chevron for date range -->
<path d="M180.300 744.800L184 748.300L187.700 744.800" fill="none" stroke="#848e9c" stroke-width="1.100"/>

</svg>
<span class="t" id="t0" style="font-size:20.6px;color:#eaecef;left:22.20px;letter-spacing:-0.071px;top:5.4px;-webkit-text-stroke:0.7px #eaecef;">BTC/USDT</span>
<span class="t" id="t1" style="font-size:13px;color:#848e9c;left:44.00px;letter-spacing:0.055px;top:31.0px;-webkit-text-stroke:0.22px #848e9c;">Bitcoin Цена</span>
<span class="t" id="t2" style="font-size:12.5px;color:#848e9c;left:216.80px;letter-spacing:0.275px;top:13.5px;-webkit-text-stroke:0.22px #848e9c;">Время</span>
<span class="t" id="t3" style="font-size:12.5px;color:#848e9c;left:273.80px;letter-spacing:0.500px;top:13.5px;-webkit-text-stroke:0.22px #848e9c;">15м</span>
<span class="t" id="t4" style="font-size:12.5px;color:#848e9c;left:314.00px;top:13.5px;-webkit-text-stroke:0.22px #848e9c;">1Ч</span>
<span class="t" id="t5" style="font-size:12.5px;color:#f0b90b;left:348.00px;letter-spacing:-1.000px;top:13.5px;-webkit-text-stroke:0.22px #f0b90b;">4Ч</span>
<span class="t" id="t6" style="font-size:12.5px;color:#848e9c;left:380.00px;letter-spacing:0.500px;top:13.5px;-webkit-text-stroke:0.22px #848e9c;">1Д</span>
<span class="t" id="t7" style="font-size:12.5px;color:#848e9c;left:415.20px;letter-spacing:-0.400px;top:13.5px;-webkit-text-stroke:0.22px #848e9c;">1Н</span>
<span class="t" id="t8" style="font-size:13.5px;color:#848e9c;left:911.80px;letter-spacing:0.277px;top:14.8px;-webkit-text-stroke:0.22px #848e9c;">Базовая версия</span>
<span class="t" id="t9" style="font-size:13.5px;color:#f0b90b;left:1034.60px;letter-spacing:-0.018px;top:14.8px;-webkit-text-stroke:0.22px #f0b90b;">Trading View</span>
<span class="t" id="t10" style="font-size:13.5px;color:#848e9c;left:1132.80px;letter-spacing:0.281px;top:14.8px;-webkit-text-stroke:0.22px #848e9c;">Диаграммы глубины</span>
<span class="t" id="t11" style="font-size:14.8px;color:#8a929e;left:70.80px;letter-spacing:0.481px;top:57.6px;-webkit-text-stroke:0.3px #8a929e;">BTCUSDT · 4Ч · Binance</span>
<span class="t" id="t12" style="font-size:12.5px;color:#848e9c;left:256.40px;letter-spacing:0.900px;top:60.5px;-webkit-text-stroke:0.22px #848e9c;">ОТКР</span>
<span class="t" id="t13" style="font-size:12.5px;color:#0ecb81;left:292.80px;letter-spacing:0.271px;top:60.5px;-webkit-text-stroke:0.22px #0ecb81;">21426.23</span>
<span class="t" id="t14" style="font-size:12.5px;color:#848e9c;left:354.00px;top:60.5px;-webkit-text-stroke:0.22px #848e9c;">МАКС</span>
<span class="t" id="t15" style="font-size:12.5px;color:#0ecb81;left:390.00px;letter-spacing:0.329px;top:60.5px;-webkit-text-stroke:0.22px #0ecb81;">21484.98</span>
<span class="t" id="t16" style="font-size:12.5px;color:#848e9c;left:451.00px;letter-spacing:0.300px;top:60.5px;-webkit-text-stroke:0.22px #848e9c;">МИН</span>
<span class="t" id="t17" style="font-size:12.5px;color:#0ecb81;left:481.00px;letter-spacing:0.286px;top:60.5px;-webkit-text-stroke:0.22px #0ecb81;">21359.57</span>
<span class="t" id="t18" style="font-size:12.5px;color:#848e9c;left:542.40px;letter-spacing:-0.267px;top:60.5px;-webkit-text-stroke:0.22px #848e9c;">ЗАКР</span>
<span class="t" id="t19" style="font-size:12.5px;color:#0ecb81;left:574.40px;letter-spacing:0.329px;top:60.5px;-webkit-text-stroke:0.22px #0ecb81;">21452.18</span>
<span class="t" id="t20" style="font-size:12.5px;color:#0ecb81;left:636.80px;letter-spacing:0.064px;top:60.5px;-webkit-text-stroke:0.22px #0ecb81;">+25.95 (+0.12%)</span>
<span class="t" id="t21" style="font-size:13px;color:#848e9c;left:71.60px;letter-spacing:0.237px;top:502.7px;-webkit-text-stroke:0.22px #848e9c;">Volume 20</span>
<span class="t" id="t22" style="font-size:13px;color:#4fb385;left:143.00px;letter-spacing:-0.200px;top:502.7px;-webkit-text-stroke:0.22px #4fb385;">1700.51</span>
<span class="t" id="t23" style="font-size:13px;color:#2196f3;left:197.00px;letter-spacing:-0.014px;top:502.7px;-webkit-text-stroke:0.22px #2196f3;">10972.73</span>
<span class="t" id="t24" style="font-size:12px;color:#848e9c;left:1306.40px;letter-spacing:-0.029px;top:74.5px;-webkit-text-stroke:0.22px #848e9c;">32000.00</span>
<span class="t" id="t25" style="font-size:12px;color:#848e9c;left:1306.40px;letter-spacing:-0.029px;top:126.5px;-webkit-text-stroke:0.22px #848e9c;">30000.00</span>
<span class="t" id="t26" style="font-size:12px;color:#848e9c;left:1306.40px;letter-spacing:-0.029px;top:178.5px;-webkit-text-stroke:0.22px #848e9c;">28000.00</span>
<span class="t" id="t27" style="font-size:12px;color:#848e9c;left:1306.40px;letter-spacing:-0.029px;top:230.5px;-webkit-text-stroke:0.22px #848e9c;">26000.00</span>
<span class="t" id="t28" style="font-size:12px;color:#848e9c;left:1306.40px;letter-spacing:-0.029px;top:282.5px;-webkit-text-stroke:0.22px #848e9c;">24000.00</span>
<span class="t" id="t29" style="font-size:12px;color:#848e9c;left:1306.40px;letter-spacing:-0.029px;top:334.5px;-webkit-text-stroke:0.22px #848e9c;">22000.00</span>
<span class="t" id="t30" style="font-size:12px;color:#848e9c;left:1306.40px;letter-spacing:-0.029px;top:386.5px;-webkit-text-stroke:0.22px #848e9c;">20000.00</span>
<span class="t" id="t31" style="font-size:12px;color:#848e9c;left:1305.40px;letter-spacing:0.257px;top:438.5px;-webkit-text-stroke:0.22px #848e9c;">18000.00</span>
<span class="t" id="t32" style="font-size:12px;color:#848e9c;left:1306.40px;letter-spacing:-0.029px;top:516.5px;-webkit-text-stroke:0.22px #848e9c;">60000.00</span>
<span class="t" id="t33" style="font-size:12px;color:#848e9c;left:1306.40px;letter-spacing:-0.029px;top:566.5px;-webkit-text-stroke:0.22px #848e9c;">40000.00</span>
<span class="t" id="t34" style="font-size:12px;color:#848e9c;left:1306.60px;letter-spacing:-0.067px;top:668.5px;-webkit-text-stroke:0.22px #848e9c;">0.00</span>
<span class="t" id="t35" style="font-size:12px;color:#161a1e;left:1304.80px;letter-spacing:0.114px;top:348.5px;-webkit-text-stroke:0.22px #161a1e;">21452.18</span>
<span class="t" id="t36" style="font-size:12px;color:#ffffff;left:1304.80px;letter-spacing:0.057px;top:612.5px;-webkit-text-stroke:0.22px #ffffff;">22191.29</span>
<span class="t" id="t37" style="font-size:12px;color:#848e9c;left:59.60px;width:100px;text-align:center;top:703.0px;-webkit-text-stroke:0.22px #848e9c;">8</span>
<span class="t" id="t38" style="font-size:12px;color:#848e9c;left:178.46px;width:100px;text-align:center;top:703.0px;-webkit-text-stroke:0.22px #848e9c;">10</span>
<span class="t" id="t39" style="font-size:12px;color:#848e9c;left:267.98px;width:100px;text-align:center;top:703.0px;-webkit-text-stroke:0.22px #848e9c;">15:00</span>
<span class="t" id="t40" style="font-size:12px;color:#848e9c;left:357.50px;width:100px;text-align:center;top:703.0px;-webkit-text-stroke:0.22px #848e9c;">13</span>
<span class="t" id="t41" style="font-size:12px;color:#848e9c;left:476.86px;width:100px;text-align:center;top:703.0px;-webkit-text-stroke:0.22px #848e9c;">15</span>
<span class="t" id="t42" style="font-size:12px;color:#848e9c;left:596.22px;width:100px;text-align:center;top:703.0px;-webkit-text-stroke:0.22px #848e9c;">17</span>
<span class="t" id="t43" style="font-size:12px;color:#848e9c;left:685.74px;width:100px;text-align:center;top:703.0px;-webkit-text-stroke:0.22px #848e9c;">15:00</span>
<span class="t" id="t44" style="font-size:12px;color:#848e9c;left:775.26px;width:100px;text-align:center;top:703.0px;-webkit-text-stroke:0.22px #848e9c;">20</span>
<span class="t" id="t45" style="font-size:12px;color:#848e9c;left:894.62px;width:100px;text-align:center;top:703.0px;-webkit-text-stroke:0.22px #848e9c;">22</span>
<span class="t" id="t46" style="font-size:12px;color:#848e9c;left:1013.98px;width:100px;text-align:center;top:703.0px;-webkit-text-stroke:0.22px #848e9c;">24</span>
<span class="t" id="t47" style="font-size:12px;color:#848e9c;left:1103.50px;width:100px;text-align:center;top:703.0px;-webkit-text-stroke:0.22px #848e9c;">15:00</span>
<span class="t" id="t48" style="font-size:12px;color:#ffffff;left:1183.00px;letter-spacing:0.278px;top:698.8px;-webkit-text-stroke:0.22px #ffffff;">27 Июн '22</span>
<span class="t" id="t49" style="font-size:12px;color:#ffffff;left:1259.60px;letter-spacing:0.125px;top:698.8px;-webkit-text-stroke:0.22px #ffffff;">07:00</span>
<span class="t" id="t50" style="font-size:14px;color:#848e9c;left:79.40px;letter-spacing:0.473px;top:737.5px;-webkit-text-stroke:0.22px #848e9c;">Диапазон дат</span>
<span class="t" id="t51" style="font-size:14px;color:#848e9c;left:1099.00px;letter-spacing:0.400px;top:737.5px;-webkit-text-stroke:0.22px #848e9c;">08:30:51 (UTC+3)</span>
<span class="t" id="t52" style="font-size:15px;color:#848e9c;left:1211.50px;width:100px;text-align:center;top:737.5px;-webkit-text-stroke:0.22px #848e9c;">%</span>
<span class="t" id="t53" style="font-size:14px;color:#848e9c;left:1245.00px;width:100px;text-align:center;top:737.5px;-webkit-text-stroke:0.22px #848e9c;">лог</span>
<span class="t" id="t54" style="font-size:14px;color:#2f7fe0;left:1288.00px;width:100px;text-align:center;top:737.5px;-webkit-text-stroke:0.22px #2f7fe0;">авто</span>
</div></body></html>
